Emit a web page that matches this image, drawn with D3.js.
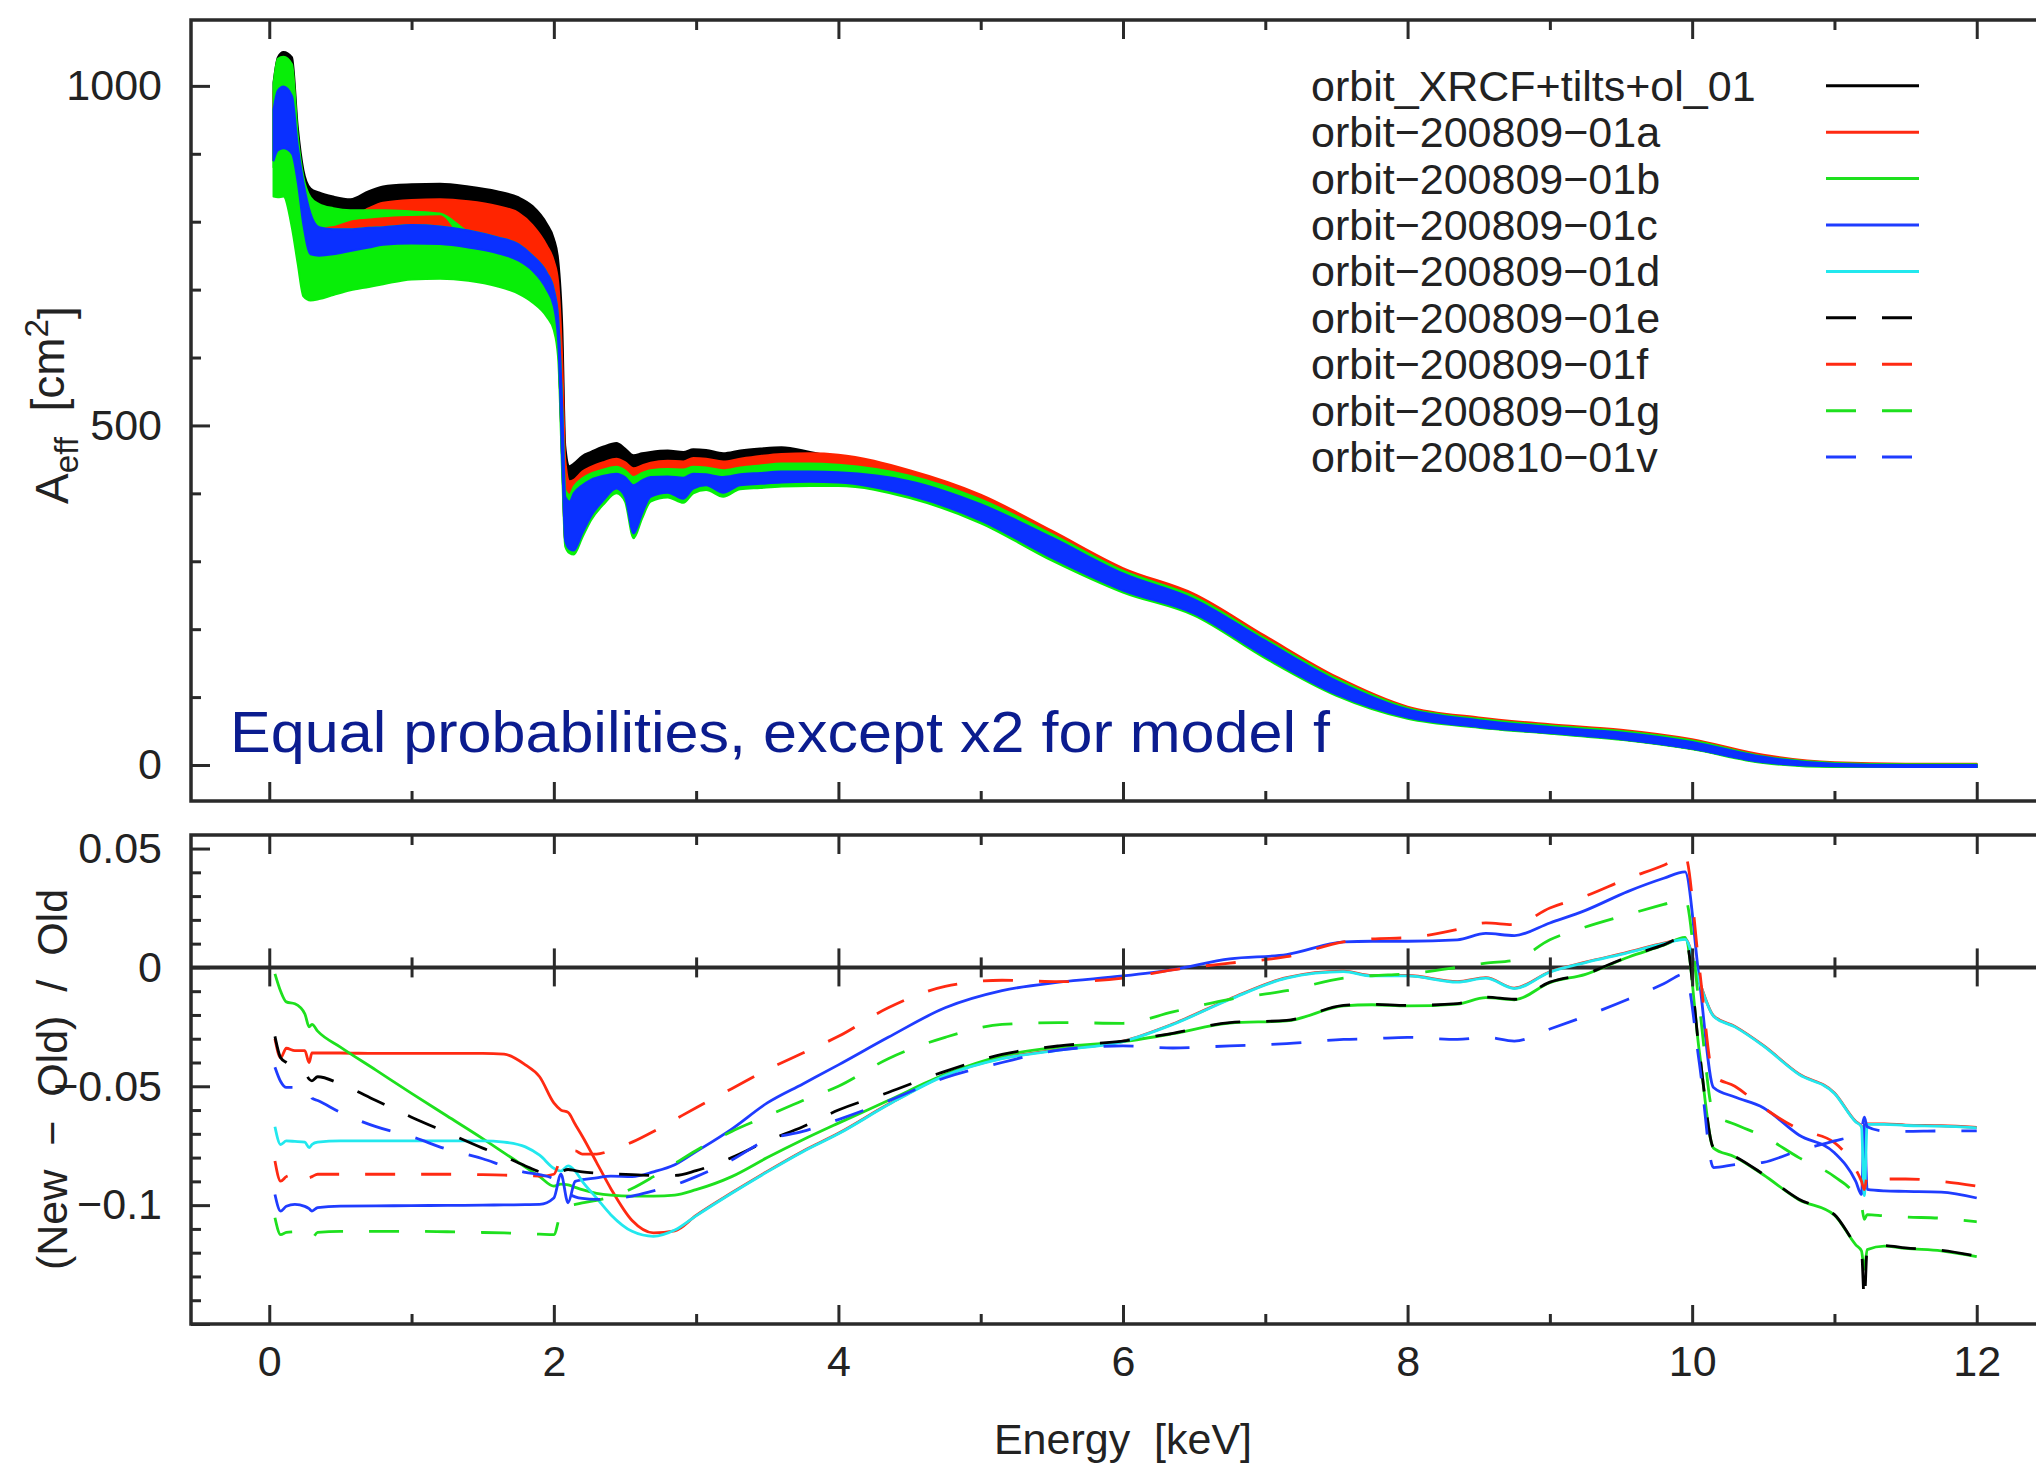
<!DOCTYPE html>
<html>
<head>
<meta charset="utf-8">
<script src="https://cdn.jsdelivr.net/npm/d3@7"></script>
<style>
  html, body { margin: 0; padding: 0; background: #fff; }
  svg { display: block; }
  text { font-family: "Liberation Sans", Arial, Helvetica, sans-serif; }
</style>
</head>
<body>
<svg id="chart" width="2036" height="1465"></svg>
<script>
// ---------------------------------------------------------------
// Effective area (upper panel): energy grid [keV] and band edges [cm^2]
// ---------------------------------------------------------------
const aeffEnergy = [0.03,0.06,0.10,0.16,0.20,0.24,0.29,0.35,0.45,0.57,0.70,0.80,1.00,1.20,1.40,1.60,1.75,1.85,1.95,2.00,2.03,2.06,2.08,2.11,2.14,2.20,2.26,2.35,2.44,2.50,2.56,2.62,2.68,2.80,2.91,2.98,3.07,3.19,3.31,3.45,3.60,3.80,4.00,4.50,5.00,5.50,6.00,6.50,7.00,7.50,8.00,8.50,9.00,9.50,10.00,10.50,11.00,11.50,12.00];

// upper edge of the XRCF reference band (black)
const aeffXRCFHi = [1005,1042,1050,1042,940,876,849,843,837,833,845,852,855,856,852,845,836,823,797,775,745,640,470,440,444,455,461,469,474,466,456,459,461,463,461,465,464,459,463,466,468,461,452,428,392,340,285,247,185,125,82,66,56,48,34,12,2,0,0];
// upper edge of model a (red)
const aeffModelAHi = [990,1030,1036,1026,915,850,805,798,798,805,820,828,832,833,830,823,813,795,765,742,712,590,450,418,420,432,439,446,451,446,437,441,445,448,447,452,451,447,451,455,458,459,457,434,398,345,290,252,190,130,86,70,60,52,38,15,4,2,2];
// model b (green, upper strip)
const aeffModelBHi = [1003,1040,1043,1032,928,866,836,826,820,817,817,817,815,812,785,775,762,745,718,692,650,515,405,398,410,422,429,435,439,434,424,430,434,436,435,439,438,434,438,441,444,444,442,426,391,340,286,248,186,127,84,68,58,50,36,13,3,1,1];
const aeffModelBLo = [880,900,905,890,850,800,795,793,795,803,806,808,810,811,765,755,745,728,700,670,620,450,340,325,316,341,366,390,407,395,341,370,395,401,392,407,412,401,412,414,416,417,416,397,360,305,257,223,160,104,70,56,47,38,24,4,-2,-3,-3];
// model c (blue)
const aeffModelCHi = [965,993,999,985,912,858,812,792,789,789,791,792,795,793,787,777,767,750,725,700,660,520,395,388,400,412,420,426,429,424,412,419,424,425,423,429,428,424,428,430,432,432,431,418,384,335,282,244,183,124,82,66,56,48,34,12,2,0,0];
const aeffModelCLo = [890,905,908,900,858,795,752,750,752,757,762,766,768,767,762,754,743,728,700,675,625,440,330,318,316,341,366,390,407,395,341,370,395,401,392,407,412,401,412,414,416,417,416,397,360,305,257,223,160,104,70,56,47,38,24,4,-2,-3,-3];
// model g (green, lower edge of the band)
const aeffModelGLo = [837,836,837,790,738,690,684,686,692,699,704,708,715,716,713,705,694,681,660,640,600,420,322,312,310,335,360,384,400,388,334,363,388,394,386,400,405,395,406,408,410,411,411,393,356,301,254,220,157,102,68,55,46,37,23,3,-3,-3,-3];

// ---------------------------------------------------------------
// Relative difference (lower panel): (New - Old) / Old
// ---------------------------------------------------------------
const ratioEnergy = [0.04,0.08,0.12,0.18,0.25,0.28,0.30,0.34,0.50,0.75,1.00,1.25,1.50,1.65,1.80,1.90,2.00,2.05,2.10,2.15,2.20,2.30,2.40,2.55,2.70,2.85,3.00,3.25,3.50,3.75,4.00,4.35,4.75,5.15,5.55,6.00,6.35,6.75,7.15,7.55,7.75,8.00,8.35,8.55,8.75,9.00,9.25,9.55,9.80,9.95,10.05,10.15,10.30,10.50,10.75,11.00,11.15,11.19,11.21,11.23,11.35,11.50,11.75,12.00];

const ratio01a = [-0.030,-0.038,-0.034,-0.035,-0.035,-0.040,-0.036,-0.036,-0.0360,-0.0362,-0.0362,-0.0362,-0.0362,-0.0365,-0.041,-0.046,-0.057,-0.060,-0.061,-0.066,-0.071,-0.082,-0.093,-0.1065,-0.1117,-0.1108,-0.1043,-0.0948,-0.0858,-0.0773,-0.0698,-0.0576,-0.0453,-0.0382,-0.0346,-0.0310,-0.0238,-0.0133,-0.0043,-0.0016,-0.0034,-0.0034,-0.0060,-0.0043,-0.0087,-0.0018,0.0022,0.0064,0.0102,0.0120,-0.0058,-0.0203,-0.0248,-0.0328,-0.0448,-0.0528,-0.0648,-0.0668,-0.0700,-0.0658,-0.0658,-0.0663,-0.0666,-0.0673];
const ratio01b = [-0.0027,-0.0100,-0.0145,-0.0153,-0.0195,-0.0250,-0.0240,-0.0268,-0.0335,-0.0432,-0.0530,-0.0625,-0.0720,-0.0780,-0.0840,-0.0880,-0.0920,-0.0912,-0.0915,-0.0925,-0.0935,-0.0950,-0.0958,-0.0962,-0.0962,-0.0958,-0.0935,-0.0880,-0.0800,-0.0725,-0.0655,-0.0560,-0.0450,-0.0372,-0.0335,-0.0312,-0.0279,-0.0234,-0.0225,-0.0162,-0.0157,-0.0162,-0.0154,-0.0127,-0.0136,-0.0064,-0.0029,0.0043,0.0093,0.0126,-0.0352,-0.0760,-0.0797,-0.0872,-0.0977,-0.1042,-0.1167,-0.1192,-0.1270,-0.1187,-0.1172,-0.1182,-0.1192,-0.1217];
const ratio01c = [-0.0955,-0.1025,-0.1005,-0.0997,-0.1005,-0.1015,-0.1025,-0.1010,-0.1004,-0.1003,-0.1002,-0.1001,-0.1000,-0.0999,-0.0998,-0.0997,-0.0970,-0.0870,-0.0990,-0.0900,-0.0893,-0.0885,-0.0878,-0.0880,-0.0860,-0.0830,-0.0775,-0.0680,-0.0570,-0.0490,-0.0410,-0.0294,-0.0170,-0.0098,-0.0062,-0.0036,-0.0009,0.0036,0.0054,0.0107,0.0110,0.0110,0.0116,0.0143,0.0134,0.0187,0.0240,0.0320,0.0375,0.0402,-0.0050,-0.0505,-0.0545,-0.0590,-0.0705,-0.0780,-0.0900,-0.0955,-0.0660,-0.0934,-0.0940,-0.0942,-0.0945,-0.0970];
const ratio01d = [-0.067,-0.0745,-0.073,-0.0732,-0.0735,-0.0758,-0.0745,-0.0735,-0.0730,-0.0730,-0.0730,-0.0730,-0.0730,-0.0735,-0.0755,-0.0790,-0.0845,-0.0857,-0.0835,-0.0857,-0.0900,-0.0970,-0.1040,-0.1110,-0.1131,-0.1105,-0.1045,-0.0950,-0.0860,-0.0775,-0.0700,-0.0578,-0.0455,-0.0384,-0.0348,-0.0312,-0.0240,-0.0135,-0.0045,-0.0018,-0.0036,-0.0036,-0.0062,-0.0045,-0.0089,-0.0020,0.0020,0.0062,0.0100,0.0118,-0.0060,-0.0205,-0.0250,-0.0330,-0.0450,-0.0530,-0.0650,-0.0670,-0.0960,-0.0660,-0.0660,-0.0665,-0.0668,-0.0675];
const ratio01e = [-0.029,-0.038,-0.040,-0.042,-0.044,-0.047,-0.0477,-0.046,-0.049,-0.056,-0.0630,-0.0695,-0.0760,-0.0795,-0.0835,-0.0860,-0.0870,-0.0860,-0.0850,-0.0855,-0.0860,-0.0865,-0.0868,-0.0872,-0.0875,-0.0875,-0.0855,-0.0800,-0.0730,-0.0670,-0.0600,-0.0526,-0.0437,-0.0366,-0.0330,-0.0310,-0.0277,-0.0232,-0.0223,-0.0160,-0.0155,-0.0160,-0.0152,-0.0125,-0.0134,-0.0062,-0.0027,0.0045,0.0095,0.0128,-0.0350,-0.0758,-0.0795,-0.0870,-0.0975,-0.1040,-0.1165,-0.1190,-0.1400,-0.1185,-0.1170,-0.1180,-0.1190,-0.1215];
const ratio01f = [-0.0814,-0.0899,-0.0880,-0.0870,-0.0860,-0.0885,-0.0880,-0.0870,-0.0870,-0.0870,-0.0870,-0.0870,-0.0872,-0.0874,-0.0876,-0.0878,-0.0870,-0.0800,-0.0775,-0.0772,-0.0785,-0.0785,-0.0770,-0.0735,-0.0690,-0.0640,-0.0590,-0.0510,-0.0430,-0.0360,-0.0290,-0.0170,-0.0080,-0.0054,-0.0060,-0.0045,-0.0010,0.0018,0.0045,0.0107,0.0120,0.0125,0.0160,0.0187,0.0180,0.0250,0.0300,0.0375,0.0430,0.0470,0.0000,-0.0455,-0.0500,-0.0590,-0.0680,-0.0737,-0.0850,-0.0900,-0.0935,-0.0880,-0.0890,-0.0890,-0.0900,-0.0920];
const ratio01g = [-0.1053,-0.1124,-0.1115,-0.1112,-0.1110,-0.1125,-0.1138,-0.1115,-0.1110,-0.1110,-0.1110,-0.1112,-0.1115,-0.1117,-0.1120,-0.1122,-0.1124,-0.1030,-0.1005,-0.0997,-0.0990,-0.0980,-0.0965,-0.0930,-0.0880,-0.0825,-0.0770,-0.0690,-0.0625,-0.0560,-0.0500,-0.0384,-0.0294,-0.0240,-0.0232,-0.0235,-0.0187,-0.0134,-0.0098,-0.0045,-0.0035,-0.0027,0.0000,0.0018,0.0030,0.0116,0.0170,0.0223,0.0265,0.0290,-0.0160,-0.0615,-0.0660,-0.0710,-0.0800,-0.0880,-0.0960,-0.1000,-0.1060,-0.1040,-0.1045,-0.1050,-0.1055,-0.1070];
const ratio01v = [-0.0420,-0.0480,-0.0505,-0.0505,-0.0505,-0.0510,-0.0550,-0.0560,-0.0610,-0.0670,-0.0712,-0.0765,-0.0805,-0.0835,-0.0862,-0.0872,-0.0890,-0.0920,-0.0950,-0.0965,-0.0972,-0.0976,-0.0972,-0.0962,-0.0940,-0.0915,-0.0880,-0.0810,-0.0725,-0.0690,-0.0640,-0.0562,-0.0464,-0.0400,-0.0348,-0.0330,-0.0339,-0.0330,-0.0321,-0.0303,-0.0300,-0.0294,-0.0303,-0.0294,-0.0310,-0.0259,-0.0205,-0.0134,-0.0069,-0.0027,-0.0400,-0.0842,-0.0830,-0.0820,-0.0770,-0.0730,-0.0700,-0.0680,-0.0630,-0.0670,-0.0688,-0.0690,-0.0688,-0.0688];

// Legend entries and axis ticks
const modelNames = ["orbit_XRCF+tilts+ol_01","orbit\u2212200809\u221201a","orbit\u2212200809\u221201b","orbit\u2212200809\u221201c","orbit\u2212200809\u221201d","orbit\u2212200809\u221201e","orbit\u2212200809\u221201f","orbit\u2212200809\u221201g","orbit\u2212200810\u221201v"];
const energyTicks = [0, 2, 4, 6, 8, 10, 12];
const energyMinorTicks = [1, 3, 5, 7, 9, 11];
const aeffTicks = [0, 500, 1000];
const aeffMinorTicks = [100, 200, 300, 400, 600, 700, 800, 900];
const ratioTicks = [-0.15, -0.1, -0.05, 0, 0.05];
const ratioTickLabels = ["", "\u22120.1", "\u22120.05", "0", "0.05"];
const ratioMinorTicks = [-0.14,-0.13,-0.12,-0.11,-0.09,-0.08,-0.07,-0.06,-0.04,-0.03,-0.02,-0.01,0.01,0.02,0.03,0.04];

// ---------------------------------------------------------------
// Styling
// ---------------------------------------------------------------
const C = { black: "#000000", red: "#ff2a12", green: "#1ee01e", blue: "#1f3cff", cyan: "#22e8ee" };
const BAND = { black: "#000000", red: "#ff2400", green: "#08ee08", blue: "#0a30ff" };
const modelColors = [C.black, C.red, C.green, C.blue, C.cyan, C.black, C.red, C.green, C.blue];
const modelDashed = [false, false, false, false, false, true, true, true, true];
const DASH = "30 26";
const AXIS = "#2a2a2a";
const FONT = 43;

const svg = d3.select("#chart");

// Panel geometry
const left = 191, right = 2055;
const topPanel = { top: 20, bottom: 801 };
const botPanel = { top: 835, bottom: 1324 };

const x = d3.scaleLinear().domain([-0.55, 12.55]).range([left, right]);
const yA = d3.scaleLinear().domain([-53, 1097]).range([topPanel.bottom, topPanel.top]);
const yR = d3.scaleLinear().domain([-0.15, 0.0557]).range([botPanel.bottom, botPanel.top]);

const defs = svg.append("defs");
defs.append("clipPath").attr("id", "clipTop").append("rect")
  .attr("x", left).attr("y", topPanel.top).attr("width", right - left).attr("height", topPanel.bottom - topPanel.top);
defs.append("clipPath").attr("id", "clipBot").append("rect")
  .attr("x", left).attr("y", botPanel.top).attr("width", right - left).attr("height", botPanel.bottom - botPanel.top);

// ---------------------------------------------------------------
// Upper panel: effective-area bands
// ---------------------------------------------------------------
const bands = [
  { lo: aeffModelCLo, hi: aeffXRCFHi,   color: BAND.black },
  { lo: aeffModelCLo, hi: aeffModelAHi, color: BAND.red },
  { lo: aeffModelBLo, hi: aeffModelBHi, color: BAND.green },
  { lo: aeffModelGLo, hi: aeffModelCHi, color: BAND.green },
  { lo: aeffModelCLo, hi: aeffModelCHi, color: BAND.blue }
];
const gBands = svg.append("g").attr("clip-path", "url(#clipTop)");
bands.forEach(b => {
  const area = d3.area()
    .curve(d3.curveMonotoneX)
    .x((d, i) => x(aeffEnergy[i]))
    .y0((d, i) => yA(b.lo[i]))
    .y1((d, i) => yA(b.hi[i]));
  gBands.append("path")
    .datum(aeffEnergy)
    .attr("d", area)
    .attr("fill", b.color)
    .attr("stroke", b.color)
    .attr("stroke-width", 2)
    .attr("stroke-linejoin", "round");
});

// ---------------------------------------------------------------
// Lower panel: zero line, then the ratio curves
// ---------------------------------------------------------------
const gLines = svg.append("g").attr("clip-path", "url(#clipBot)");
gLines.append("line")
  .attr("x1", left).attr("x2", right)
  .attr("y1", yR(0)).attr("y2", yR(0))
  .attr("stroke", AXIS).attr("stroke-width", 4);

const ratioSeries = [ratio01a, ratio01b, ratio01c, ratio01d, ratio01e, ratio01f, ratio01g, ratio01v];
const line = d3.line().curve(d3.curveMonotoneX).x((d, i) => x(ratioEnergy[i])).y(d => yR(d));
ratioSeries.forEach((vals, k) => {
  gLines.append("path")
    .datum(vals)
    .attr("d", line)
    .attr("fill", "none")
    .attr("stroke", modelColors[k + 1])
    .attr("stroke-width", 2.8)
    .attr("stroke-linejoin", "round")
    .attr("stroke-dasharray", modelDashed[k + 1] ? DASH : null);
});

// ---------------------------------------------------------------
// Axes, ticks and frames
// ---------------------------------------------------------------
function styleAxis(g) {
  g.select(".domain").remove();
  g.selectAll(".tick line").attr("stroke", AXIS).attr("stroke-width", 3);
  g.selectAll(".tick text").attr("fill", "#222").attr("font-size", FONT)
    .attr("font-family", '"Liberation Sans", Arial, sans-serif');
}
function addAxis(axis, tx, ty) {
  svg.append("g").attr("transform", `translate(${tx},${ty})`).call(axis).call(styleAxis);
}
const noLabel = () => "";

// energy ticks on every horizontal edge
[[d3.axisTop, topPanel.top], [d3.axisBottom, topPanel.bottom], [d3.axisTop, botPanel.top]].forEach(([ax, yy]) => {
  addAxis(ax(x).tickValues(energyTicks).tickSize(-19).tickFormat(noLabel), 0, yy);
  addAxis(ax(x).tickValues(energyMinorTicks).tickSize(-10).tickFormat(noLabel), 0, yy);
});
addAxis(d3.axisBottom(x).tickValues(energyTicks).tickSize(-19).tickPadding(21).tickFormat(d3.format("d")), 0, botPanel.bottom);
addAxis(d3.axisBottom(x).tickValues(energyMinorTicks).tickSize(-10).tickFormat(noLabel), 0, botPanel.bottom);
// ticks crossing the zero line
[d3.axisTop, d3.axisBottom].forEach(ax => {
  addAxis(ax(x).tickValues(energyTicks).tickSize(19).tickFormat(noLabel), 0, yR(0));
  addAxis(ax(x).tickValues(energyMinorTicks).tickSize(10).tickFormat(noLabel), 0, yR(0));
});

// vertical axes
addAxis(d3.axisLeft(yA).tickValues(aeffTicks).tickSize(-19).tickPadding(29).tickFormat(d3.format("d")), left, 0);
addAxis(d3.axisLeft(yA).tickValues(aeffMinorTicks).tickSize(-10).tickFormat(noLabel), left, 0);
addAxis(d3.axisRight(yA).tickValues(aeffTicks).tickSize(-19).tickFormat(noLabel), right, 0);
addAxis(d3.axisRight(yA).tickValues(aeffMinorTicks).tickSize(-10).tickFormat(noLabel), right, 0);

addAxis(d3.axisLeft(yR).tickValues(ratioTicks).tickSize(-19).tickPadding(29)
  .tickFormat((d, i) => ratioTickLabels[i]), left, 0);
addAxis(d3.axisLeft(yR).tickValues(ratioMinorTicks).tickSize(-10).tickFormat(noLabel), left, 0);
addAxis(d3.axisRight(yR).tickValues(ratioTicks).tickSize(-19).tickFormat(noLabel), right, 0);
addAxis(d3.axisRight(yR).tickValues(ratioMinorTicks).tickSize(-10).tickFormat(noLabel), right, 0);

[topPanel, botPanel].forEach(p => {
  svg.append("rect")
    .attr("x", left).attr("y", p.top)
    .attr("width", right - left).attr("height", p.bottom - p.top)
    .attr("fill", "none").attr("stroke", AXIS).attr("stroke-width", 3.5);
});

// ---------------------------------------------------------------
// Axis titles
// ---------------------------------------------------------------
const yTitleA = svg.append("text")
  .attr("transform", `translate(52, ${yA(530)}) rotate(-90)`)
  .attr("text-anchor", "middle").attr("dy", "0.35em")
  .attr("font-size", 46).attr("fill", "#222")
  .style("white-space", "pre");
yTitleA.append("tspan").text("A");
yTitleA.append("tspan").attr("font-size", 46 * 0.72).attr("dy", "0.3em").text("eff");
yTitleA.append("tspan").attr("dy", "-0.3em").text("  [cm");
yTitleA.append("tspan").attr("font-size", 46 * 0.72).attr("dy", "-0.5em").text("2");
yTitleA.append("tspan").attr("dy", "0.5em").text("]");

svg.append("text")
  .attr("transform", `translate(52, ${(botPanel.top + botPanel.bottom) / 2}) rotate(-90)`)
  .attr("text-anchor", "middle").attr("dy", "0.35em")
  .attr("font-size", FONT).attr("fill", "#222")
  .style("white-space", "pre")
  .text("(New  \u2212  Old)  /  Old");

svg.append("text")
  .attr("x", x(6.0)).attr("y", 1454)
  .attr("text-anchor", "middle")
  .attr("font-size", FONT).attr("fill", "#222")
  .style("white-space", "pre")
  .text("Energy  [keV]");

// ---------------------------------------------------------------
// Legend
// ---------------------------------------------------------------
const legend = svg.append("g");
const rowY = d3.scaleLinear().domain([0, 8]).range([85.7, 457.1]);
modelNames.forEach((name, i) => {
  legend.append("text")
    .attr("x", 1311).attr("y", rowY(i)).attr("dy", "0.35em")
    .attr("font-size", FONT).attr("fill", "#222")
    .text(name);
  legend.append("line")
    .attr("x1", 1826).attr("x2", 1919)
    .attr("y1", rowY(i)).attr("y2", rowY(i))
    .attr("stroke", modelColors[i]).attr("stroke-width", 3)
    .attr("stroke-dasharray", modelDashed[i] ? DASH : null);
});

// ---------------------------------------------------------------
// Annotation
// ---------------------------------------------------------------
svg.append("text")
  .attr("x", 230).attr("y", 752)
  .attr("font-family", "Lato, 'Open Sans', sans-serif")
  .attr("font-size", 58)
  .attr("fill", "#0b1c8f")
  .attr("textLength", 1100)
  .attr("lengthAdjust", "spacingAndGlyphs")
  .text("Equal probabilities, except x2 for model f");
</script>
</body>
</html>
